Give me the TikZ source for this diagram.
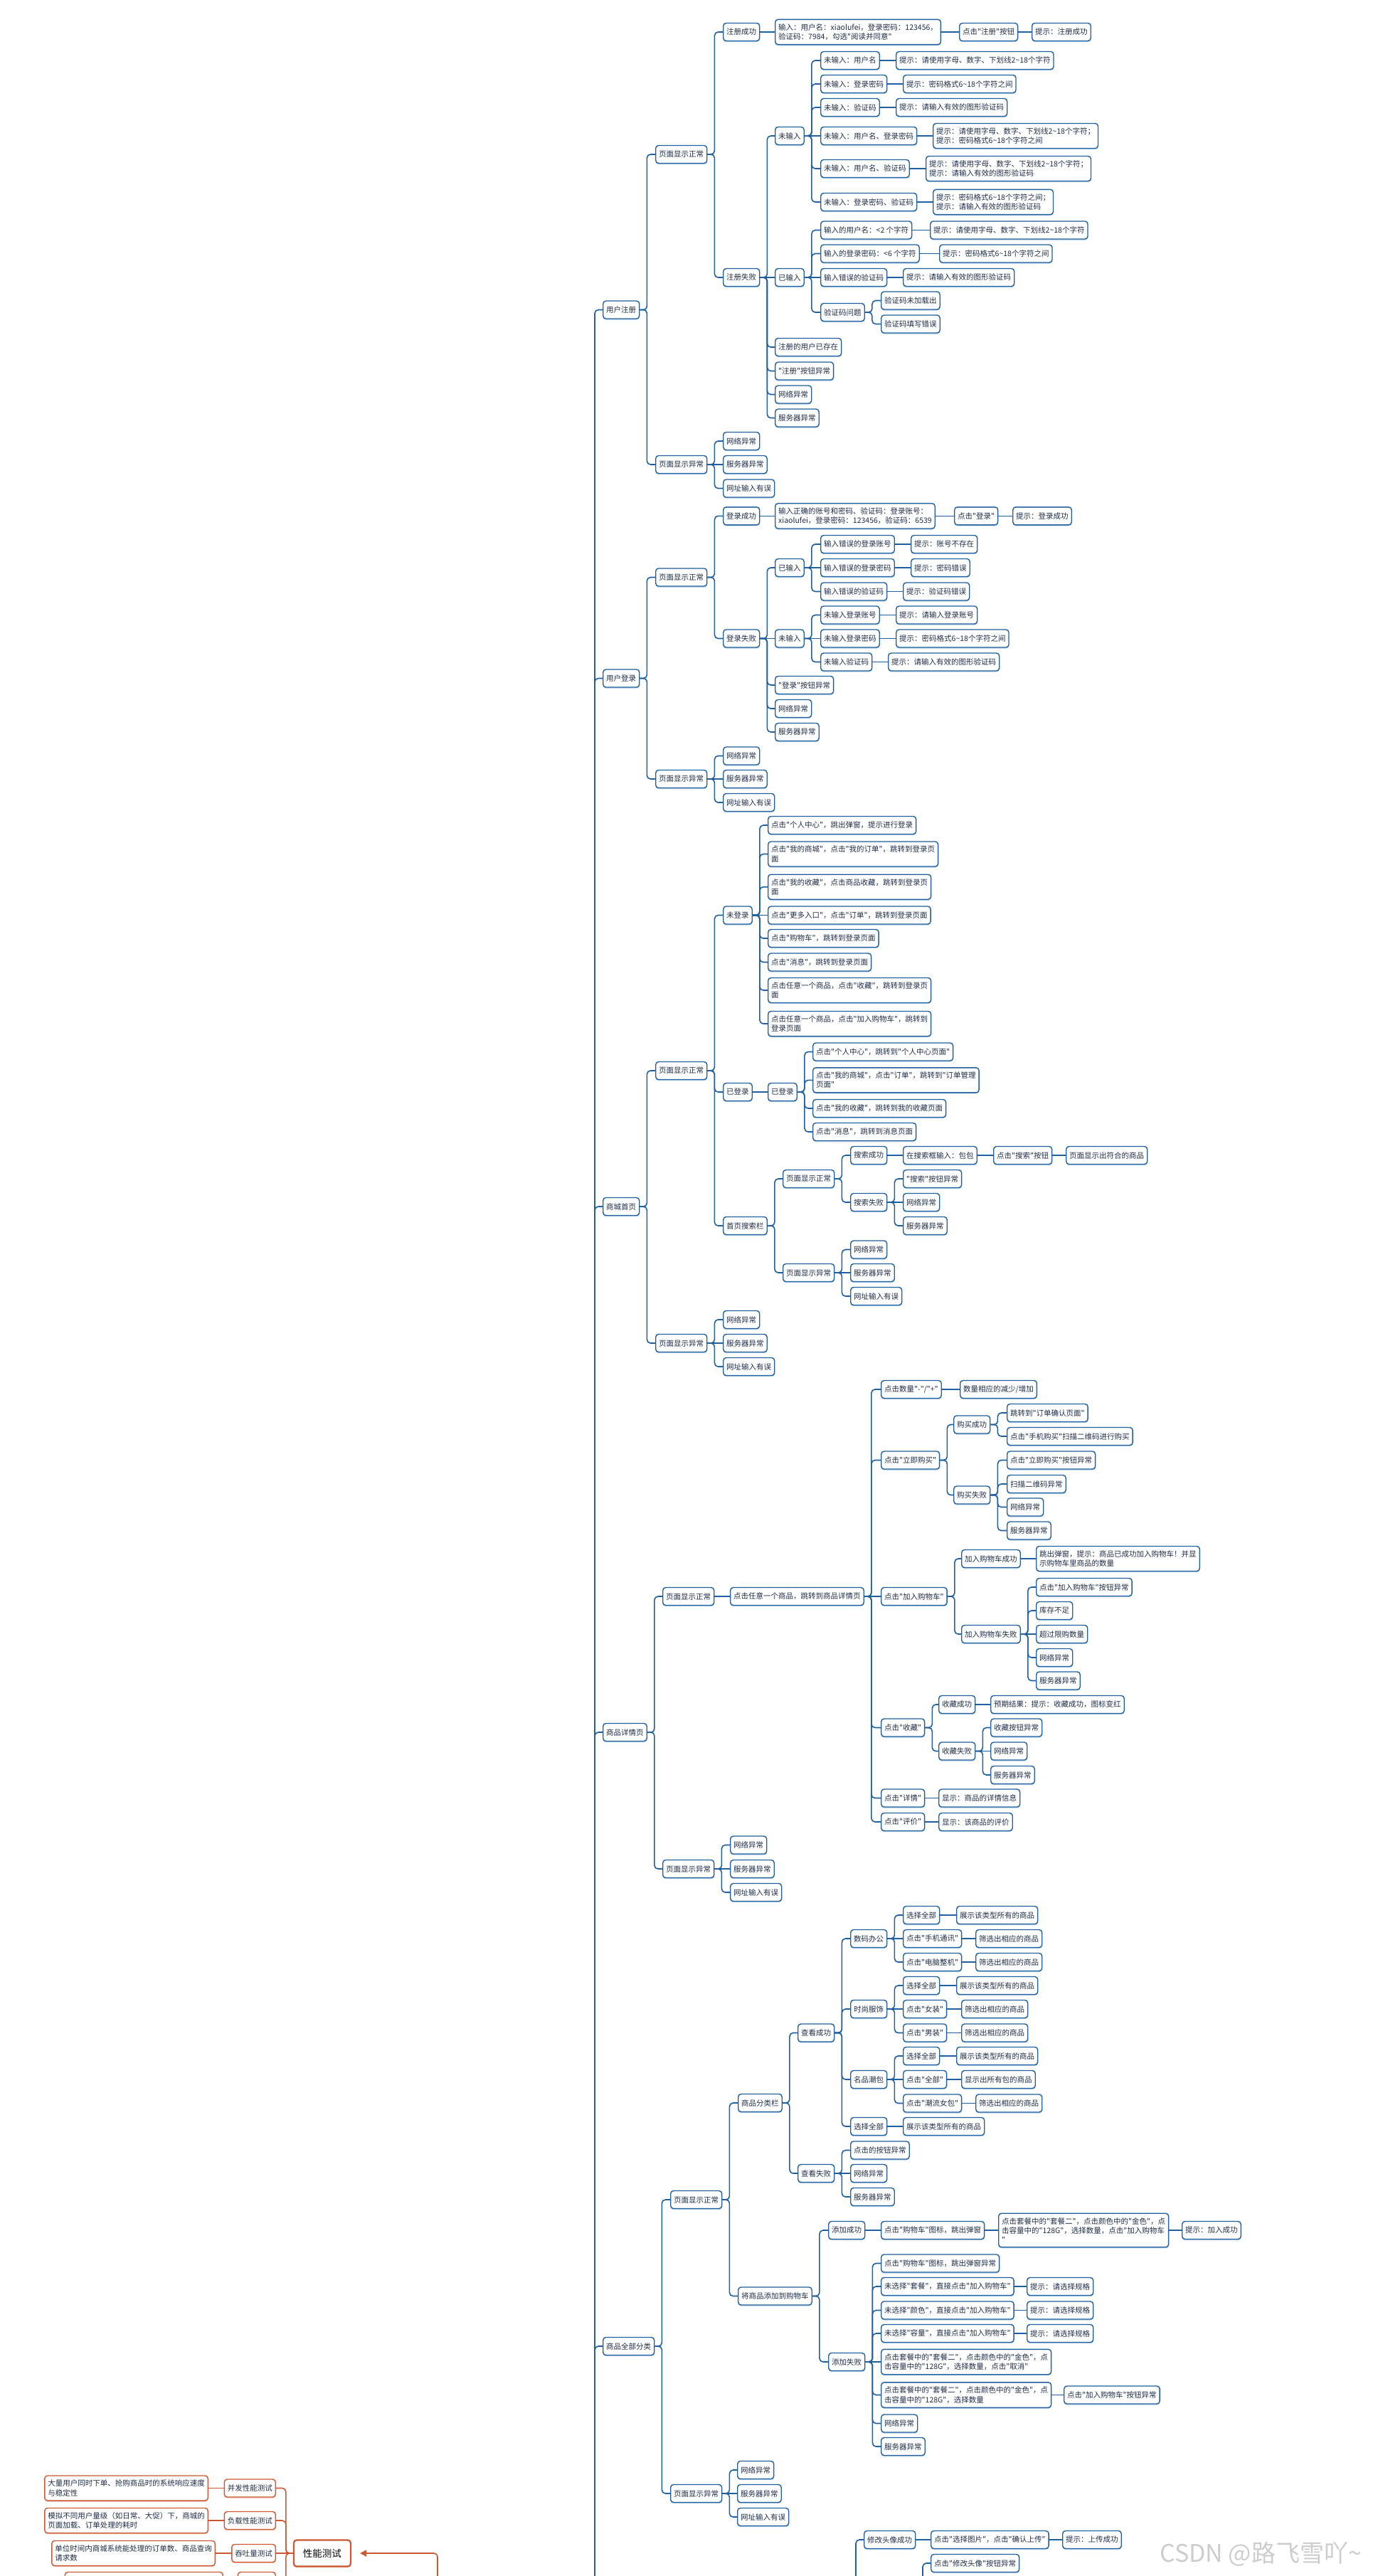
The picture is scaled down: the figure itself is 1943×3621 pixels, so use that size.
\documentclass[tikz,border=0pt]{standalone}
\usepackage{fontspec}
\newfontfamily\cjk{Noto Sans CJK SC}
\usetikzlibrary{shadows,arrows.meta}
\definecolor{bl}{RGB}{33,96,158}
\definecolor{bls}{RGB}{175,205,232}
\definecolor{tx}{RGB}{30,45,70}
\definecolor{rd}{RGB}{204,88,52}
\definecolor{rds}{RGB}{242,196,178}
\definecolor{wm}{RGB}{205,205,205}
\newcommand\tld{\textasciitilde}
\tikzset{
  bb/.style={line width=1.4pt, rounded corners=4pt, fill=white, minimum height=25pt, inner xsep=4.5pt, inner ysep=6pt, font=\cjk\fontsize{10.5}{13.3}\selectfont, text=tx, align=left},
  b/.style={bb, draw=bl, anchor=west, drop shadow={shadow xshift=0pt, shadow yshift=-1.6pt, fill=bls, opacity=1}},
  r/.style={bb, draw=rd, anchor=east, drop shadow={shadow xshift=0pt, shadow yshift=-1.6pt, fill=rds, opacity=1}},
  rbig/.style={r, line width=2.2pt, minimum height=37pt, inner xsep=13pt, text=black, font=\cjk\fontsize{13.5}{16}\selectfont},
  lk/.style={draw=bl, line width=1.6pt, rounded corners=5pt},
  rlk/.style={draw=rd, line width=1.6pt, rounded corners=5pt},
}
\newcommand\N[4]{\node[b] (#1) at (#2,#3) {#4};}
\newcommand\R[4]{\node[r] (#1) at (#2,#3) {#4};}
\newcommand\br[2]{\draw[lk] (#1.east) -- ++(10,0) |- (#2.west);}
\newcommand\st[2]{\draw[lk] (#1.east) -- (#2.west);}
\newcommand\rbr[2]{\draw[rlk] (#1.west) -- ++(-10,0) |- (#2.east);}
\newcommand\rst[2]{\draw[rlk] (#1.west) -- (#2.east);}
\begin{document}
\begin{tikzpicture}[x=1pt,y=-1pt]
\useasboundingbox (0,0) rectangle (1943,3621);
\clip (0,0) rectangle (1943,3621);
\fill[white] (0,0) rectangle (1943,3621);

% ================= 用户注册
\N{A}{847}{435.5}{用户注册}
\N{A1}{921}{217}{页面显示正常}
\N{A11}{1016}{45}{注册成功}
\N{A11a}{1089}{45}{输入：用户名：xiaolufei，登录密码：123456，\\验证码：7984，勾选"阅读并同意"}
\N{A11b}{1348}{45}{点击"注册"按钮}
\N{A11c}{1450}{45}{提示：注册成功}
\N{A12}{1016}{390}{注册失败}
\N{A121}{1089}{191}{未输入}
\N{u1}{1153}{85}{未输入：用户名}
\N{u1t}{1259}{85}{提示：请使用字母、数字、下划线2\tld18个字符}
\N{u2}{1153}{118}{未输入：登录密码}
\N{u2t}{1269}{118}{提示：密码格式6\tld18个字符之间}
\N{u3}{1153}{151}{未输入：验证码}
\N{u3t}{1259}{151}{提示：请输入有效的图形验证码}
\N{u4}{1153}{191}{未输入：用户名、登录密码}
\N{u4t}{1311}{191}{提示：请使用字母、数字、下划线2\tld18个字符；\\提示：密码格式6\tld18个字符之间}
\N{u5}{1153}{237}{未输入：用户名、验证码}
\N{u5t}{1301}{237}{提示：请使用字母、数字、下划线2\tld18个字符；\\提示：请输入有效的图形验证码}
\N{u6}{1153}{284}{未输入：登录密码、验证码}
\N{u6t}{1311}{284}{提示：密码格式6\tld18个字符之间；\\提示：请输入有效的图形验证码}
\N{A122}{1089}{390}{已输入}
\N{i1}{1153}{323.5}{输入的用户名：<2 个字符}
\N{i1t}{1307}{323.5}{提示：请使用字母、数字、下划线2\tld18个字符}
\N{i2}{1153}{356.5}{输入的登录密码：<6 个字符}
\N{i2t}{1320}{356.5}{提示：密码格式6\tld18个字符之间}
\N{i3}{1153}{390}{输入错误的验证码}
\N{i3t}{1269}{390}{提示：请输入有效的图形验证码}
\N{i4}{1153}{439}{验证码问题}
\N{i4a}{1238}{422.5}{验证码未加载出}
\N{i4b}{1238}{455.5}{验证码填写错误}
\N{A123}{1089}{488}{注册的用户已存在}
\N{A124}{1089}{521.5}{"注册"按钮异常}
\N{A125}{1089}{554.5}{网络异常}
\N{A126}{1089}{587.5}{服务器异常}
\N{A2}{921}{653}{页面显示异常}
\N{A21}{1016}{620}{网络异常}
\N{A22}{1016}{653}{服务器异常}
\N{A23}{1016}{686.5}{网址输入有误}

\br{A}{A1} \br{A}{A2}
\br{A1}{A11} \br{A1}{A12}
\st{A11}{A11a} \st{A11a}{A11b} \st{A11b}{A11c}
\br{A12}{A121} \st{A12}{A122} \br{A12}{A123} \br{A12}{A124} \br{A12}{A125} \br{A12}{A126}
\br{A121}{u1} \br{A121}{u2} \br{A121}{u3} \st{A121}{u4} \br{A121}{u5} \br{A121}{u6}
\st{u1}{u1t} \st{u2}{u2t} \st{u3}{u3t} \st{u4}{u4t} \st{u5}{u5t} \st{u6}{u6t}
\br{A122}{i1} \br{A122}{i2} \st{A122}{i3} \br{A122}{i4}
\st{i1}{i1t} \st{i2}{i2t} \st{i3}{i3t}
\br{i4}{i4a} \br{i4}{i4b}
\br{A2}{A21} \st{A2}{A22} \br{A2}{A23}

% ================= 用户登录
\N{B}{847}{953.5}{用户登录}
\N{B1}{921}{811.5}{页面显示正常}
\N{B11}{1016}{725.3}{登录成功}
\N{B11a}{1089}{725.3}{输入正确的账号和密码、验证码：登录账号：\\xiaolufei，登录密码：123456，验证码：6539}
\N{B11b}{1341}{725.3}{点击"登录"}
\N{B11c}{1423}{725.3}{提示：登录成功}
\N{B12}{1016}{897.5}{登录失败}
\N{B121}{1089}{798}{已输入}
\N{c1}{1153}{765}{输入错误的登录账号}
\N{c1t}{1280}{765}{提示：账号不存在}
\N{c2}{1153}{798}{输入错误的登录密码}
\N{c2t}{1280}{798}{提示：密码错误}
\N{c3}{1153}{831.5}{输入错误的验证码}
\N{c3t}{1269}{831.5}{提示：验证码错误}
\N{B122}{1089}{897.5}{未输入}
\N{d1}{1153}{864.5}{未输入登录账号}
\N{d1t}{1259}{864.5}{提示：请输入登录账号}
\N{d2}{1153}{897.5}{未输入登录密码}
\N{d2t}{1259}{897.5}{提示：密码格式6\tld18个字符之间}
\N{d3}{1153}{930.5}{未输入验证码}
\N{d3t}{1248}{930.5}{提示：请输入有效的图形验证码}
\N{B123}{1089}{963}{"登录"按钮异常}
\N{B124}{1089}{996}{网络异常}
\N{B125}{1089}{1029}{服务器异常}
\N{B2}{921}{1095}{页面显示异常}
\N{B21}{1016}{1062.5}{网络异常}
\N{B22}{1016}{1095}{服务器异常}
\N{B23}{1016}{1128}{网址输入有误}

\br{B}{B1} \br{B}{B2}
\br{B1}{B11} \br{B1}{B12}
\st{B11}{B11a} \st{B11a}{B11b} \st{B11b}{B11c}
\br{B12}{B121} \st{B12}{B122} \br{B12}{B123} \br{B12}{B124} \br{B12}{B125}
\br{B121}{c1} \st{B121}{c2} \br{B121}{c3}
\st{c1}{c1t} \st{c2}{c2t} \st{c3}{c3t}
\br{B122}{d1} \st{B122}{d2} \br{B122}{d3}
\st{d1}{d1t} \st{d2}{d2t} \st{d3}{d3t}
\br{B2}{B21} \st{B2}{B22} \br{B2}{B23}

% ================= 商城首页
\N{C}{847}{1696}{商城首页}
\N{C1}{921}{1505}{页面显示正常}
\N{C11}{1016}{1286.5}{未登录}
\N{e1}{1079}{1160}{点击"个人中心"，跳出弹窗，提示进行登录}
\N{e2}{1079}{1200.5}{点击"我的商城"，点击"我的订单"，跳转到登录页\\面}
\N{e3}{1079}{1246.7}{点击"我的收藏"，点击商品收藏，跳转到登录页\\面}
\N{e4}{1079}{1286.5}{点击"更多入口"，点击"订单"，跳转到登录页面}
\N{e5}{1079}{1319}{点击"购物车"，跳转到登录页面}
\N{e6}{1079}{1352.5}{点击"消息"，跳转到登录页面}
\N{e7}{1079}{1392}{点击任意一个商品，点击"收藏"，跳转到登录页\\面}
\N{e8}{1079}{1439}{点击任意一个商品，点击"加入购物车"，跳转到\\登录页面}
\N{C12}{1016}{1535}{已登录}
\N{C121}{1079}{1535}{已登录}
\N{f1}{1142}{1478.5}{点击"个人中心"，跳转到"个人中心页面"}
\N{f2}{1142}{1518.3}{点击"我的商城"，点击"订单"，跳转到"订单管理\\页面"}
\N{f3}{1142}{1558}{点击"我的收藏"，跳转到我的收藏页面}
\N{f4}{1142}{1591}{点击"消息"，跳转到消息页面}
\N{C13}{1016}{1723}{首页搜索栏}
\N{C131}{1100}{1657}{页面显示正常}
\N{g1}{1195}{1624}{搜索成功}
\N{g1a}{1269}{1624}{在搜索框输入：包包}
\N{g1b}{1396}{1624}{点击"搜索"按钮}
\N{g1c}{1498}{1624}{页面显示出符合的商品}
\N{g2}{1195}{1690}{搜索失败}
\N{g2a}{1269}{1657}{"搜索"按钮异常}
\N{g2b}{1269}{1690}{网络异常}
\N{g2c}{1269}{1723}{服务器异常}
\N{C132}{1100}{1789}{页面显示异常}
\N{h1}{1195}{1756.5}{网络异常}
\N{h2}{1195}{1789}{服务器异常}
\N{h3}{1195}{1822}{网址输入有误}
\N{C2}{921}{1888}{页面显示异常}
\N{C21}{1016}{1855}{网络异常}
\N{C22}{1016}{1888}{服务器异常}
\N{C23}{1016}{1921}{网址输入有误}

\br{C}{C1} \br{C}{C2}
\br{C1}{C11} \br{C1}{C12} \br{C1}{C13}
\br{C11}{e1} \br{C11}{e2} \br{C11}{e3} \st{C11}{e4} \br{C11}{e5} \br{C11}{e6} \br{C11}{e7} \br{C11}{e8}
\st{C12}{C121}
\br{C121}{f1} \br{C121}{f2} \br{C121}{f3} \br{C121}{f4}
\br{C13}{C131} \br{C13}{C132}
\br{C131}{g1} \br{C131}{g2}
\st{g1}{g1a} \st{g1a}{g1b} \st{g1b}{g1c}
\br{g2}{g2a} \st{g2}{g2b} \br{g2}{g2c}
\br{C132}{h1} \st{C132}{h2} \br{C132}{h3}
\br{C2}{C21} \st{C2}{C22} \br{C2}{C23}

% ================= 商品详情页
\N{D}{847}{2435}{商品详情页}
\N{D1}{931}{2244}{页面显示正常}
\N{D11}{1026}{2244}{点击任意一个商品，跳转到商品详情页}
\N{k1}{1238}{1953}{点击数量"-"/"+"}
\N{k1a}{1349}{1953}{数量相应的减少/增加}
\N{k2}{1238}{2052.5}{点击"立即购买"}
\N{k21}{1340}{2002.5}{购买成功}
\N{k21a}{1415}{1986}{跳转到"订单确认页面"}
\N{k21b}{1415}{2019}{点击"手机购买"扫描二维码进行购买}
\N{k22}{1340}{2101.5}{购买失败}
\N{k22a}{1415}{2052.5}{点击"立即购买"按钮异常}
\N{k22b}{1415}{2086}{扫描二维码异常}
\N{k22c}{1415}{2118.5}{网络异常}
\N{k22d}{1415}{2151.5}{服务器异常}
\N{k3}{1238}{2244}{点击"加入购物车"}
\N{k31}{1351}{2191}{加入购物车成功}
\N{k31a}{1456}{2191}{跳出弹窗，提示：商品已成功加入购物车！并显\\示购物车里商品的数量}
\N{k32}{1351}{2297}{加入购物车失败}
\N{k32a}{1456}{2231}{点击"加入购物车"按钮异常}
\N{k32b}{1456}{2264}{库存不足}
\N{k32c}{1456}{2297}{超过限购数量}
\N{k32d}{1456}{2330}{网络异常}
\N{k32e}{1456}{2362.5}{服务器异常}
\N{k4}{1238}{2428.5}{点击"收藏"}
\N{k41}{1319}{2396}{收藏成功}
\N{k41a}{1392}{2396}{预期结果：提示：收藏成功，图标变红}
\N{k42}{1319}{2461.5}{收藏失败}
\N{k42a}{1392}{2428.5}{收藏按钮异常}
\N{k42b}{1392}{2461.5}{网络异常}
\N{k42c}{1392}{2495}{服务器异常}
\N{k5}{1238}{2527.5}{点击"详情"}
\N{k5a}{1319}{2527.5}{显示：商品的详情信息}
\N{k6}{1238}{2561}{点击"评价"}
\N{k6a}{1319}{2561}{显示：该商品的评价}
\N{D2}{931}{2627}{页面显示异常}
\N{D21}{1026}{2593.5}{网络异常}
\N{D22}{1026}{2627}{服务器异常}
\N{D23}{1026}{2660}{网址输入有误}

\br{D}{D1} \br{D}{D2}
\st{D1}{D11}
\br{D11}{k1} \br{D11}{k2} \st{D11}{k3} \br{D11}{k4} \br{D11}{k5} \br{D11}{k6}
\st{k1}{k1a}
\br{k2}{k21} \br{k2}{k22}
\br{k21}{k21a} \br{k21}{k21b}
\br{k22}{k22a} \br{k22}{k22b} \br{k22}{k22c} \br{k22}{k22d}
\br{k3}{k31} \br{k3}{k32}
\st{k31}{k31a}
\br{k32}{k32a} \br{k32}{k32b} \st{k32}{k32c} \br{k32}{k32d} \br{k32}{k32e}
\br{k4}{k41} \br{k4}{k42}
\st{k41}{k41a}
\br{k42}{k42a} \st{k42}{k42b} \br{k42}{k42c}
\st{k5}{k5a} \st{k6}{k6a}
\br{D2}{D21} \st{D2}{D22} \br{D2}{D23}

% ================= 商品全部分类
\N{E}{847}{3298}{商品全部分类}
\N{E1}{942}{3092}{页面显示正常}
\N{E11}{1037}{2956}{商品分类栏}
\N{E111}{1121}{2857.5}{查看成功}
\N{m1}{1195}{2725}{数码办公}
\N{m1a}{1269}{2692}{选择全部}
\N{m1at}{1344}{2692}{展示该类型所有的商品}
\N{m1b}{1269}{2725}{点击"手机通讯"}
\N{m1bt}{1371}{2725}{筛选出相应的商品}
\N{m1c}{1269}{2758}{点击"电脑整机"}
\N{m1ct}{1371}{2758}{筛选出相应的商品}
\N{m2}{1195}{2824}{时尚服饰}
\N{m2a}{1269}{2791}{选择全部}
\N{m2at}{1344}{2791}{展示该类型所有的商品}
\N{m2b}{1269}{2824}{点击"女装"}
\N{m2bt}{1351}{2824}{筛选出相应的商品}
\N{m2c}{1269}{2857.5}{点击"男装"}
\N{m2ct}{1351}{2857.5}{筛选出相应的商品}
\N{m3}{1195}{2923}{名品潮包}
\N{m3a}{1269}{2890}{选择全部}
\N{m3at}{1344}{2890}{展示该类型所有的商品}
\N{m3b}{1269}{2923}{点击"全部"}
\N{m3bt}{1351}{2923}{显示出所有包的商品}
\N{m3c}{1269}{2956.5}{点击"潮流女包"}
\N{m3ct}{1371}{2956.5}{筛选出相应的商品}
\N{m4}{1195}{2989}{选择全部}
\N{m4t}{1269}{2989}{展示该类型所有的商品}
\N{E112}{1121}{3055}{查看失败}
\N{n1}{1195}{3022.5}{点击的按钮异常}
\N{n2}{1195}{3055}{网络异常}
\N{n3}{1195}{3088}{服务器异常}
\N{E12}{1037}{3227.5}{将商品添加到购物车}
\N{p1}{1164}{3135}{添加成功}
\N{p1a}{1238}{3135}{点击"购物车"图标，跳出弹窗}
\N{p1b}{1403}{3135}{点击套餐中的"套餐二"，点击颜色中的"金色"，点\\击容量中的"128G"，选择数量，点击"加入购物车\\"}
\N{p1c}{1661}{3135}{提示：加入成功}
\N{p2}{1164}{3320}{添加失败}
\N{q1}{1238}{3181.5}{点击"购物车"图标，跳出弹窗异常}
\N{q2}{1238}{3214}{未选择"套餐"，直接点击"加入购物车"}
\N{q2t}{1443}{3214}{提示：请选择规格}
\N{q3}{1238}{3247.5}{未选择"颜色"，直接点击"加入购物车"}
\N{q3t}{1443}{3247.5}{提示：请选择规格}
\N{q4}{1238}{3280}{未选择"容量"，直接点击"加入购物车"}
\N{q4t}{1443}{3280}{提示：请选择规格}
\N{q5}{1238}{3320}{点击套餐中的"套餐二"，点击颜色中的"金色"，点\\击容量中的"128G"，选择数量，点击"取消"}
\N{q6}{1238}{3366.5}{点击套餐中的"套餐二"，点击颜色中的"金色"，点\\击容量中的"128G"，选择数量}
\N{q6t}{1495}{3366.5}{点击"加入购物车"按钮异常}
\N{q7}{1238}{3406.5}{网络异常}
\N{q8}{1238}{3439}{服务器异常}
\N{E2}{942}{3505}{页面显示异常}
\N{E21}{1036}{3472}{网络异常}
\N{E22}{1036}{3505}{服务器异常}
\N{E23}{1036}{3538}{网址输入有误}

\br{E}{E1} \br{E}{E2}
\br{E1}{E11} \br{E1}{E12}
\br{E11}{E111} \br{E11}{E112}
\br{E111}{m1} \br{E111}{m2} \br{E111}{m3} \br{E111}{m4}
\br{m1}{m1a} \st{m1}{m1b} \br{m1}{m1c}
\st{m1a}{m1at} \st{m1b}{m1bt} \st{m1c}{m1ct}
\br{m2}{m2a} \st{m2}{m2b} \br{m2}{m2c}
\st{m2a}{m2at} \st{m2b}{m2bt} \st{m2c}{m2ct}
\br{m3}{m3a} \st{m3}{m3b} \br{m3}{m3c}
\st{m3a}{m3at} \st{m3b}{m3bt} \st{m3c}{m3ct}
\st{m4}{m4t}
\br{E112}{n1} \st{E112}{n2} \br{E112}{n3}
\br{E12}{p1} \br{E12}{p2}
\st{p1}{p1a} \st{p1a}{p1b} \st{p1b}{p1c}
\br{p2}{q1} \br{p2}{q2} \br{p2}{q3} \br{p2}{q4} \st{p2}{q5} \br{p2}{q6} \br{p2}{q7} \br{p2}{q8}
\st{q2}{q2t} \st{q3}{q3t} \st{q4}{q4t} \st{q6}{q6t}
\br{E2}{E21} \st{E2}{E22} \br{E2}{E23}

% ================= bottom branch (partly visible)
\N{s1}{1214}{3570}{修改头像成功}
\N{s1a}{1308}{3570}{点击"选择图片"，点击"确认上传"}
\N{s1b}{1493}{3570}{提示：上传成功}
\N{s2}{1308}{3603}{点击"修改头像"按钮异常}
\coordinate (sA) at (1203,3700);
\coordinate (sB) at (1297,3700);
\draw[lk] (sA) |- (s1.west);
\draw[lk] (sB) |- (s2.west);
\st{s1}{s1a} \st{s1a}{s1b}

% ================= main spine
\coordinate (sp) at (836,3700);
\foreach \t in {A,B,C,D,E} {\draw[lk] (sp) |- (\t.west);}

% ================= 性能测试 (red)
\node[rbig] (X) at (494,3589) {性能测试};
\R{X1}{388}{3497.5}{并发性能测试}
\R{X1t}{293}{3497.5}{大量用户同时下单、抢购商品时的系统响应速度\\与稳定性}
\R{X2}{388}{3543}{负载性能测试}
\R{X2t}{293}{3543}{模拟不同用户量级（如日常、大促）下，商城的\\页面加载、订单处理的耗时}
\R{X3}{388}{3589}{吞吐量测试}
\R{X3t}{303}{3589}{单位时间内商城系统能处理的订单数、商品查询\\请求数}
\node[r, minimum width=53pt] (X4) at (388,3628) {};
\node[r, minimum width=222pt, minimum height=39pt] (X4t) at (314,3635) {};
\rbr{X}{X1} \rbr{X}{X2} \rst{X}{X3} \rbr{X}{X4}
\rst{X1}{X1t} \rst{X2}{X2t} \rst{X3}{X3t} \rst{X4}{X4t}
\coordinate (rt) at (615,3700);
\draw[rlk, -{Triangle[length=9pt,width=9pt]}] (rt) |- ([xshift=12pt]X.east);

% ================= watermark
\node[anchor=west, text=wm, inner sep=0pt, font=\cjk\fontsize{34}{34}\selectfont] (wmk) at (1630,3590) {CSDN @路飞雪吖\tld};
\end{tikzpicture}
\end{document}
